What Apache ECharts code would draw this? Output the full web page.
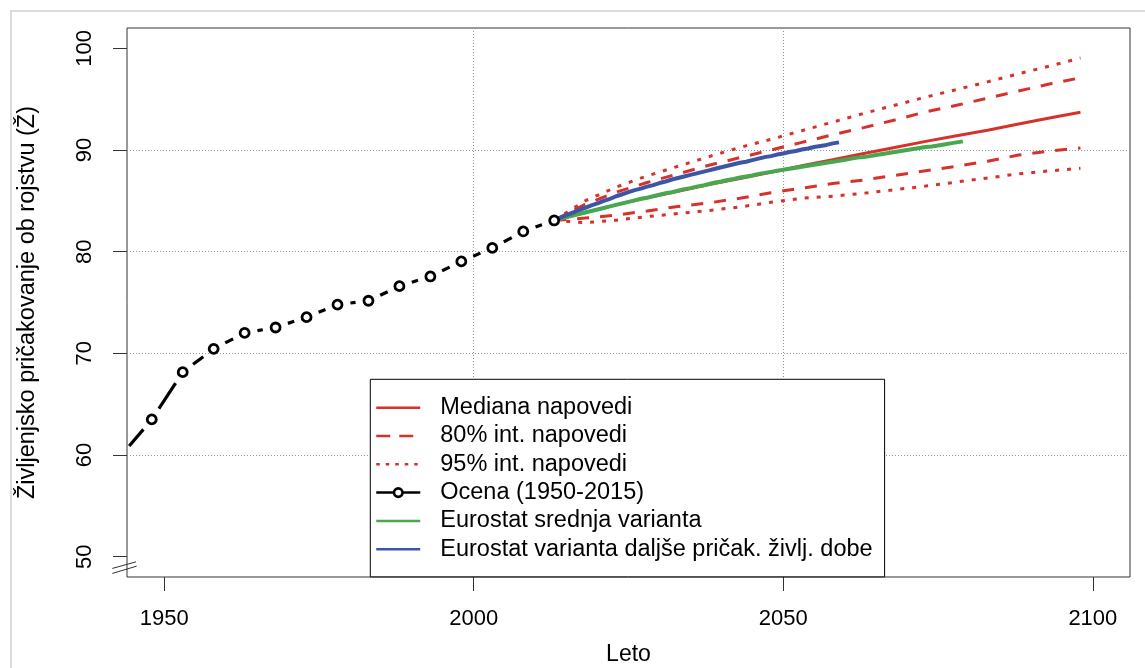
<!DOCTYPE html>
<html><head><meta charset="utf-8">
<script src="https://cdn.jsdelivr.net/npm/echarts@6/dist/echarts.min.js"></script>
<style>html,body{margin:0;padding:0;background:#fff}#c{width:1145px;height:668px}</style>
</head><body><div id="c"></div>
<script>
// ---------- DATA ----------
const xTicks = [1950, 2000, 2050, 2100];
const yTicks = [50, 60, 70, 80, 90, 100];

const estYears  = [1943, 1948, 1953, 1958, 1963, 1968, 1973, 1978, 1983, 1988, 1993, 1998, 2003, 2008, 2013];
const estValues = [59.9, 63.5, 68.15, 70.44, 72.01, 72.54, 73.56, 74.79, 75.17, 76.61, 77.56, 79.04, 80.37, 81.99, 83.07];

const projYears = [2013, 2018, 2023, 2028, 2033, 2038, 2043, 2048, 2053, 2058, 2063, 2068, 2073, 2078, 2083, 2088, 2093, 2098];
const median  = [83.07, 83.85, 84.6, 85.3, 85.95, 86.6, 87.2, 87.8, 88.45, 89.05, 89.65, 90.25, 90.85, 91.4, 91.95, 92.55, 93.15, 93.72];
const upper80 = [83.07, 84.65, 85.85, 86.8, 87.65, 88.5, 89.25, 90.0, 90.75, 91.5, 92.2, 92.95, 93.75, 94.4, 95.1, 95.8, 96.5, 97.1];
const lower80 = [83.07, 83.3, 83.6, 84.0, 84.45, 84.8, 85.25, 85.8, 86.25, 86.7, 87.05, 87.5, 87.95, 88.4, 88.9, 89.5, 89.9, 90.2];
const upper95 = [83.07, 85.0, 86.35, 87.45, 88.4, 89.35, 90.25, 91.05, 91.9, 92.75, 93.6, 94.4, 95.2, 95.95, 96.7, 97.5, 98.25, 99.05];
const lower95 = [83.07, 82.85, 83.1, 83.45, 83.75, 84.05, 84.4, 84.85, 85.25, 85.45, 85.75, 86.1, 86.45, 86.85, 87.25, 87.65, 87.95, 88.2];

const greenYears = [2013,2014,2015,2016,2017,2018,2019,2020,2021,2022,2023,2024,2025,2026,2027,2028,2029,2030,2031,2032,2033,2034,2035,2036,2037,2038,2039,2040,2041,2042,2043,2044,2045,2046,2047,2048,2049,2050,2051,2052,2053,2054,2055,2056,2057,2058,2059,2060,2061,2062,2063,2064,2065,2066,2067,2068,2069,2070,2071,2072,2073,2074,2075,2076,2077,2078,2079];
const greenValues = [83.07,83.25,83.4,83.55,83.7,83.85,84.0,84.15,84.3,84.45,84.6,84.75,84.9,85.05,85.2,85.3,85.45,85.6,85.75,85.85,86.0,86.15,86.25,86.4,86.5,86.65,86.8,86.9,87.05,87.15,87.3,87.4,87.5,87.65,87.75,87.85,87.95,88.05,88.15,88.25,88.35,88.45,88.55,88.65,88.75,88.85,88.95,89.05,89.15,89.25,89.3,89.4,89.5,89.6,89.7,89.8,89.9,90.0,90.1,90.2,90.3,90.35,90.45,90.55,90.65,90.75,90.85];

const blueYears = [2013,2014,2015,2016,2017,2018,2019,2020,2021,2022,2023,2024,2025,2026,2027,2028,2029,2030,2031,2032,2033,2034,2035,2036,2037,2038,2039,2040,2041,2042,2043,2044,2045,2046,2047,2048,2049,2050,2051,2052,2053,2054,2055,2056,2057,2058,2059];
const blueValues = [83.07,83.35,83.6,83.85,84.1,84.3,84.55,84.75,85.0,85.2,85.45,85.65,85.85,86.05,86.2,86.4,86.55,86.75,86.9,87.1,87.25,87.4,87.55,87.7,87.85,88.0,88.15,88.3,88.45,88.6,88.75,88.85,89.0,89.15,89.3,89.4,89.55,89.65,89.8,89.9,90.05,90.15,90.3,90.4,90.5,90.65,90.75];

const names = {
  med: 'Mediana napovedi',
  i80: '80% int. napovedi',
  i95: '95% int. napovedi',
  est: 'Ocena (1950-2015)',
  green: 'Eurostat srednja varianta',
  blue: 'Eurostat varianta daljše pričak. življ. dobe'
};
const xName = 'Leto';
const yName = 'Življenjsko pričakovanje ob rojstvu (Ž)';

// ---------- STYLE ----------
const FONT = '"Liberation Sans", Arial, Helvetica, sans-serif';
const RED = '#d7312c', GREEN = '#47a84f', BLUE = '#3c55a6';
const DASH = [12, 11], DOT = [4, 8];
const GRIDC = '#939393';
const zip = (xs, ys) => xs.map((x, i) => [x, ys[i]]);

const chart = echarts.init(document.getElementById('c'), null, {renderer: 'canvas'});

function lineSeries(name, xs, ys, color, width, type) {
  return {
    type: 'line', name, data: zip(xs, ys), symbol: 'none', showSymbol: false,
    clip: true, silent: true,
    lineStyle: {color, width, type: type || 'solid', cap: 'butt'},
    itemStyle: {color}
  };
}

const option = {
  animation: false,
  backgroundColor: '#fff',
  textStyle: {fontFamily: FONT},
  grid: {left: 127, top: 28, right: 15, bottom: 91, show: true, borderColor: '#333', borderWidth: 1,
         backgroundColor: 'transparent', containLabel: false, outerBoundsMode: 'none'},
  xAxis: {
    type: 'value', min: 1944, max: 2106, splitNumber: 3,
    name: xName, nameLocation: 'middle', nameGap: 66, nameMoveOverlap: false,
    nameTextStyle: {fontSize: 23, color: '#000', fontFamily: FONT},
    axisLine: {show: false},
    axisTick: {show: true, length: 14, customValues: xTicks, lineStyle: {color: '#333', width: 1}},
    axisLabel: {show: true, margin: 31, customValues: xTicks, fontSize: 22, color: '#000', fontFamily: FONT,
                formatter: v => String(v)},
    splitLine: {show: true, showMinLine: false, showMaxLine: false, lineStyle: {color: GRIDC, width: 1, type: [1, 2]}}
  },
  yAxis: {
    type: 'value', min: 48, max: 102, splitNumber: 5,
    name: yName, nameLocation: 'middle', nameRotate: 90, nameGap: 87, nameMoveOverlap: false,
    nameTextStyle: {fontSize: 23.5, color: '#000', fontFamily: FONT},
    axisLine: {show: false},
    axisTick: {show: true, length: 14, customValues: yTicks, lineStyle: {color: '#333', width: 1}},
    axisLabel: {show: true, rotate: 90, margin: 31, customValues: yTicks, fontSize: 22, color: '#000', fontFamily: FONT,
                formatter: v => String(v)},
    splitLine: {show: true, showMinLine: false, showMaxLine: false, lineStyle: {color: GRIDC, width: 1, type: [1, 2]}}
  },
  legend: {
    orient: 'vertical', left: 370.3, top: 379.3,
    padding: [14.25, 12, 13.5, 4.7],
    itemWidth: 44, itemHeight: 10.6, itemGap: 0,
    backgroundColor: '#fff', borderColor: '#000', borderWidth: 1, borderRadius: 0,
    selectedMode: false,
    textStyle: {fontSize: 23.5, color: '#000', fontFamily: FONT, lineHeight: 28.3, padding: [0, 0, 0, 15]},
    lineStyle: {width: 2.5},
    data: [
      {name: names.med, itemStyle: {opacity: 0}, lineStyle: {type: 'solid', width: 2.5}},
      {name: names.i80, itemStyle: {opacity: 0}, lineStyle: {type: [14, 9], width: 2.5}},
      {name: names.i95, itemStyle: {opacity: 0}, lineStyle: {type: [3.5, 6], width: 2.5}},
      {name: names.est, itemStyle: {color: '#fff', borderColor: '#000', borderWidth: 2.6, opacity: 1},
       lineStyle: {color: '#000', type: 'solid', opacity: 1, width: 2.5}},
      {name: names.green, itemStyle: {opacity: 0}, lineStyle: {type: 'solid', width: 2.5}},
      {name: names.blue, itemStyle: {opacity: 0}, lineStyle: {type: 'solid', width: 2.5}}
    ]
  },
  series: [
    {
      type: 'custom', name: 'est-seg', data: zip(estYears, estValues), clip: true, silent: true,
      renderItem: function (params, api) {
        const i = params.dataIndexInside;
        if (i === 0) return null;
        const p1 = api.coord([api.value(0, i - 1), api.value(1, i - 1)]);
        const p2 = api.coord([api.value(0, i), api.value(1, i)]);
        const dx = p2[0] - p1[0], dy = p2[1] - p1[1], L = Math.hypot(dx, dy);
        const g = 13;
        if (L <= 2 * g) return null;
        const ux = dx / L, uy = dy / L;
        return {type: 'line', shape: {x1: p1[0] + ux * g, y1: p1[1] + uy * g, x2: p2[0] - ux * g, y2: p2[1] - uy * g},
                style: {stroke: '#000', lineWidth: 3.2, lineCap: 'butt'}};
      }
    },
    {
      type: 'line', name: names.est, data: zip(estYears, estValues), clip: true, silent: true,
      symbol: 'circle', symbolSize: 9, showSymbol: true,
      itemStyle: {color: '#fff', borderColor: '#000', borderWidth: 2.8},
      lineStyle: {opacity: 0, width: 0}
    },
    lineSeries(names.med, projYears, median, RED, 3),
    lineSeries(names.i80, projYears, upper80, RED, 3, DASH),
    lineSeries(names.i80, projYears, lower80, RED, 3, DASH),
    lineSeries(names.i95, projYears, upper95, RED, 3, DOT),
    lineSeries(names.i95, projYears, lower95, RED, 3, DOT),
    lineSeries(names.green, greenYears, greenValues, GREEN, 4),
    lineSeries(names.blue, blueYears, blueValues, BLUE, 4)
  ]
};
chart.setOption(option);

// decorations: outer frame and axis-break mark, placed via the axis scale
const b = chart.convertToPixel({gridIndex: 0}, [1944, 49]);
chart.setOption({
  graphic: [
    {type: 'line', z: 100, silent: true, shape: {x1: 10, y1: 11, x2: 1145, y2: 11}, style: {stroke: '#dcdcdc', lineWidth: 2}},
    {type: 'line', z: 100, silent: true, shape: {x1: 11, y1: 10, x2: 11, y2: 668}, style: {stroke: '#dcdcdc', lineWidth: 2}},
    {type: 'line', z: 100, silent: true, shape: {x1: b[0] - 14.7, y1: b[1] + 1.6, x2: b[0] + 9, y2: b[1] - 5}, style: {stroke: '#333', lineWidth: 1}},
    {type: 'line', z: 100, silent: true, shape: {x1: b[0] - 14.7, y1: b[1] + 6.6, x2: b[0] + 9.7, y2: b[1] - 0.7}, style: {stroke: '#333', lineWidth: 1}}
  ]
});
</script>
</body></html>
